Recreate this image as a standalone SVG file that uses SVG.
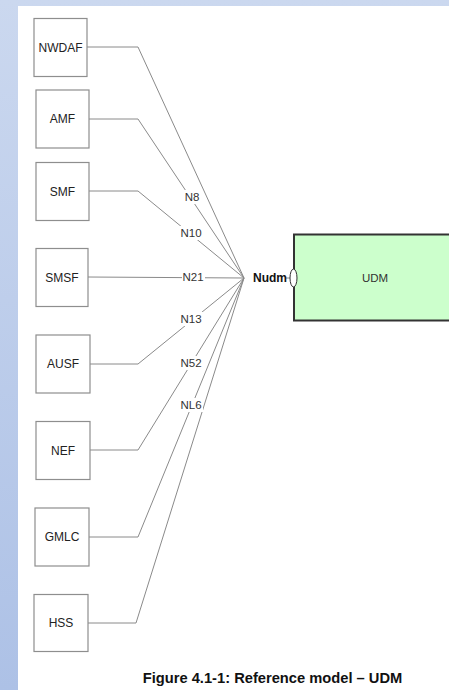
<svg xmlns="http://www.w3.org/2000/svg" width="449" height="690" viewBox="0 0 449 690">
  <defs>
    <linearGradient id="bg" x1="0" y1="0" x2="0" y2="1">
      <stop offset="0" stop-color="#cbd8ef"/>
      <stop offset="1" stop-color="#adc1e6"/>
    </linearGradient>
    <style>
      .box{fill:#ffffff;stroke:#8e8e8e;stroke-width:1.2}
      .nf{font-family:"Liberation Sans",Arial,sans-serif;font-size:12px;fill:#222;text-anchor:middle;dominant-baseline:central}
      .ref{font-family:"Liberation Sans",Arial,sans-serif;font-size:11.5px;fill:#333;text-anchor:middle;dominant-baseline:central}
      .lbg{fill:#ffffff}
      .conn{fill:none;stroke:#8a8a8a;stroke-width:1}
    </style>
  </defs>
  <rect x="0" y="0" width="449" height="690" fill="url(#bg)"/>
  <rect x="18" y="6" width="431" height="684" fill="#ffffff"/>

  <g id="connectors">
    <polyline class="conn" points="87,47 138,47 244,278"/>
    <polyline class="conn" points="89,119 138,119 244,278"/>
    <polyline class="conn" points="89,191 138,191 244,278"/>
    <polyline class="conn" points="88,277 244,278"/>
    <polyline class="conn" points="90,364 138,364 244,278"/>
    <polyline class="conn" points="90,450 138,450 244,278"/>
    <polyline class="conn" points="89,537 138,537 244,278"/>
    <polyline class="conn" points="88,623 136,623 244,278"/>
    <line class="conn" x1="286" y1="278" x2="290" y2="278" stroke="#444"/>
    <rect class="lbg" x="184" y="190" width="17" height="14"/>
    <text class="ref" x="192" y="197">N8</text>
    <rect class="lbg" x="180" y="226" width="23" height="14"/>
    <text class="ref" x="191" y="233">N10</text>
    <rect class="lbg" x="182" y="271" width="23" height="14"/>
    <text class="ref" x="193" y="277">N21</text>
    <rect class="lbg" x="180" y="312" width="23" height="14"/>
    <text class="ref" x="191" y="319">N13</text>
    <rect class="lbg" x="180" y="356" width="23" height="14"/>
    <text class="ref" x="191" y="363">N52</text>
    <rect class="lbg" x="180" y="398" width="23" height="14"/>
    <text class="ref" x="191" y="405">NL6</text>
  </g>

  <g id="NWDAF"><rect class="box" x="34" y="18.5" width="53" height="58"/><text class="nf" x="60.5" y="47.5">NWDAF</text></g>
  <g id="AMF"><rect class="box" x="36" y="90" width="53" height="58"/><text class="nf" x="62.5" y="119">AMF</text></g>
  <g id="SMF"><rect class="box" x="36" y="162.5" width="53" height="58"/><text class="nf" x="62.5" y="191.5">SMF</text></g>
  <g id="SMSF"><rect class="box" x="36" y="248.5" width="52" height="58"/><text class="nf" x="62" y="277.5">SMSF</text></g>
  <g id="AUSF"><rect class="box" x="36" y="335" width="54" height="58"/><text class="nf" x="63" y="364">AUSF</text></g>
  <g id="NEF"><rect class="box" x="36" y="421.5" width="54" height="58"/><text class="nf" x="63" y="450.5">NEF</text></g>
  <g id="GMLC"><rect class="box" x="35" y="508" width="54" height="58"/><text class="nf" x="62" y="537">GMLC</text></g>
  <g id="HSS"><rect class="box" x="34" y="594.5" width="54" height="57"/><text class="nf" x="61" y="623">HSS</text></g>

  <g id="UDM">
    <rect x="294" y="234.5" width="170" height="86" fill="#ccffcc" stroke="#333333" stroke-width="2"/>
    <text class="ref" x="375" y="278">UDM</text>
    <text x="253" y="278" font-family="'Liberation Sans',Arial,sans-serif" font-size="12px" font-weight="bold" fill="#111" dominant-baseline="central">Nudm</text>
    <ellipse cx="293.5" cy="278" rx="3.5" ry="9" fill="#ffffff" stroke="#333333" stroke-width="1"/>
  </g>

  <text x="272.5" y="683" font-family="'Liberation Sans',Arial,sans-serif" font-size="14.7px" font-weight="bold" fill="#111" text-anchor="middle">Figure 4.1-1: Reference model – UDM</text>
</svg>
